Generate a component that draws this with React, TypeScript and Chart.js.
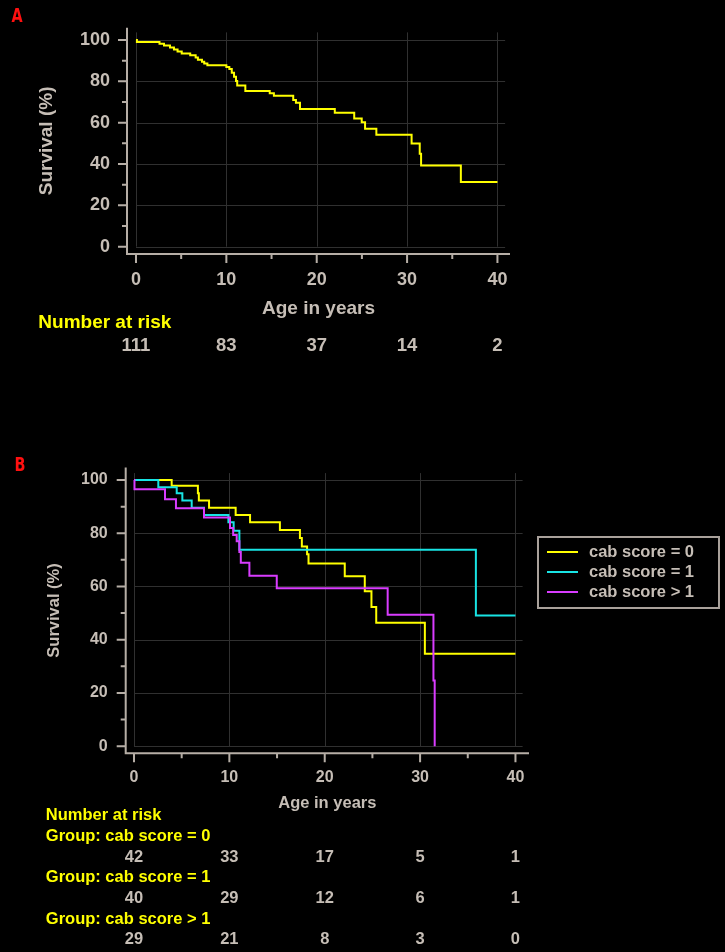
import React, { useEffect, useRef } from 'react';
import { Chart, registerables } from 'chart.js';

Chart.register(...registerables);

const FONT = '"Liberation Sans", Arial, Helvetica, sans-serif';
const LETTER_FONT = '"DejaVu Sans", "Liberation Sans", Arial, sans-serif';
const TEXT = '#c6beb6';
const AXIS = '#b6aea6';
const GRID = '#303030';
const YELLOW = '#ffff00';
const CYAN = '#18e4e4';
const MAGENTA = '#d93cff';
const RED = '#ff1010';

// Shared axis ticks
const xTickValues = [0, 10, 20, 30, 40];
const xMinorValues = [5, 15, 25, 35];
const yTickValues = [0, 20, 40, 60, 80, 100];
const yMinorValues = [10, 30, 50, 70, 90];

// Panel A: overall survival
const timesA = [0, 0.1, 2.6, 3.1, 3.76, 4.2, 4.6, 5.06, 6.0, 6.6, 6.85, 7.3, 7.55, 7.9, 10.0, 10.33, 10.6, 10.85, 11.07, 11.2, 12.1, 14.8, 15.26, 17.4, 17.7, 18.15, 22.0, 24.15, 24.98, 25.35, 26.6, 30.5, 31.4, 31.55, 35.95, 40.0];
const survivalA = [100, 99.1, 98.2, 97.3, 96.4, 95.4, 94.4, 93.5, 92.6, 91.5, 90.4, 89.5, 88.6, 87.8, 86.9, 86.0, 84.2, 82.2, 80.2, 78.0, 75.3, 74.2, 73.0, 71.0, 69.6, 66.6, 64.8, 62.0, 60.2, 57.1, 54.2, 49.9, 45.0, 39.3, 31.3, 31.3];
const riskTimes = [0, 10, 20, 30, 40];
const riskA = [111, 83, 37, 14, 2];

// Panel B: by cab score
const groupNames = ['cab score = 0', 'cab score = 1', 'cab score > 1'];
const timesB0 = [0, 3.95, 6.7, 6.8, 7.87, 10.66, 12.17, 15.3, 17.4, 17.6, 18.15, 18.3, 22.1, 24.2, 24.9, 25.4, 30.5, 40.0];
const survivalB0 = [100, 97.8, 95.0, 92.3, 89.6, 86.9, 84.1, 81.2, 78.2, 75.0, 72.1, 68.6, 63.8, 58.2, 52.3, 46.4, 34.7, 34.7];
const timesB1 = [0, 2.55, 4.48, 5.07, 6.05, 7.34, 9.9, 10.45, 11.05, 35.85, 40.0];
const survivalB1 = [100, 97.3, 95.0, 92.3, 89.6, 86.9, 84.1, 80.9, 73.8, 49.1, 49.1];
const timesB2 = [0, 0.05, 3.25, 4.4, 7.34, 10.07, 10.4, 10.77, 11.05, 11.2, 12.1, 14.97, 26.6, 31.4, 31.53];
const survivalB2 = [100, 96.5, 92.8, 89.4, 85.9, 82.0, 79.3, 77.0, 73.0, 68.9, 64.0, 59.3, 49.4, 24.7, 0];
const riskB0 = [42, 33, 17, 5, 1];
const riskB1 = [40, 29, 12, 6, 1];
const riskB2 = [29, 21, 8, 3, 0];

const toPoints = (t: number[], s: number[]) => t.map((x, i) => ({ x, y: s[i] }));

type TextItem = { text: string; x: number; y: number; color: string; size: number };
type RiskRow = { values: number[]; y: number };
type Deco = {
  letter: string; letterX: number; letterY: number;
  gridXMax: number; gridYMax: number;
  majorLen: number; minorLen: number;
  textSize: number;
  texts: TextItem[];
  riskRows: RiskRow[];
  legend?: { x: number; y: number; w: number; h: number; lineX0: number; lineX1: number; textX: number; rowY: number[] };
};

function makeDecor(cfg: Deco) {
  return {
    id: 'decor',
    beforeDatasetsDraw(chart: any) {
      const { ctx } = chart;
      const xs = chart.scales.x;
      const ys = chart.scales.y;
      const gx0 = xs.getPixelForValue(0);
      const gx1 = xs.getPixelForValue(cfg.gridXMax);
      const gy0 = ys.getPixelForValue(0);
      const gy1 = ys.getPixelForValue(cfg.gridYMax);
      ctx.save();
      ctx.strokeStyle = GRID;
      ctx.lineWidth = 1;
      ctx.beginPath();
      xTickValues.forEach((v) => {
        const p = Math.round(xs.getPixelForValue(v)) + 0.5;
        ctx.moveTo(p, gy1);
        ctx.lineTo(p, gy0);
      });
      yTickValues.forEach((v) => {
        const p = Math.round(ys.getPixelForValue(v)) + 0.5;
        ctx.moveTo(gx0, p);
        ctx.lineTo(gx1, p);
      });
      ctx.stroke();
      ctx.restore();
    },
    afterDraw(chart: any) {
      const { ctx, chartArea: a } = chart;
      const xs = chart.scales.x;
      const ys = chart.scales.y;
      ctx.save();
      // axes
      ctx.strokeStyle = AXIS;
      ctx.lineWidth = 2;
      ctx.beginPath();
      ctx.moveTo(a.left, a.top);
      ctx.lineTo(a.left, a.bottom);
      ctx.lineTo(a.right, a.bottom);
      ctx.stroke();
      ctx.beginPath();
      xTickValues.forEach((v) => {
        const p = xs.getPixelForValue(v);
        ctx.moveTo(p, a.bottom);
        ctx.lineTo(p, a.bottom + cfg.majorLen);
      });
      xMinorValues.forEach((v) => {
        const p = xs.getPixelForValue(v);
        ctx.moveTo(p, a.bottom);
        ctx.lineTo(p, a.bottom + cfg.minorLen);
      });
      yTickValues.forEach((v) => {
        const p = ys.getPixelForValue(v);
        ctx.moveTo(a.left - cfg.majorLen, p);
        ctx.lineTo(a.left, p);
      });
      yMinorValues.forEach((v) => {
        const p = ys.getPixelForValue(v);
        ctx.moveTo(a.left - cfg.minorLen, p);
        ctx.lineTo(a.left, p);
      });
      ctx.stroke();

      // panel letter (narrow bold red glyph)
      ctx.save();
      ctx.fillStyle = RED;
      ctx.font = `bold 20px ${LETTER_FONT}`;
      ctx.textAlign = 'center';
      ctx.textBaseline = 'middle';
      ctx.translate(cfg.letterX, cfg.letterY);
      ctx.scale(0.72, 1);
      ctx.fillText(cfg.letter, 0, 0);
      ctx.restore();

      ctx.textBaseline = 'middle';
      // free texts
      ctx.textAlign = 'left';
      cfg.texts.forEach((t) => {
        ctx.fillStyle = t.color;
        ctx.font = `bold ${t.size}px ${FONT}`;
        ctx.fillText(t.text, t.x, t.y);
      });

      // number at risk values
      ctx.textAlign = 'center';
      ctx.fillStyle = TEXT;
      ctx.font = `bold ${cfg.textSize}px ${FONT}`;
      cfg.riskRows.forEach((row) => {
        row.values.forEach((v, i) => {
          ctx.fillText(String(v), xs.getPixelForValue(riskTimes[i]), row.y);
        });
      });

      // legend
      if (cfg.legend) {
        const L = cfg.legend;
        ctx.strokeStyle = '#a9a19b';
        ctx.lineWidth = 2;
        ctx.strokeRect(L.x, L.y, L.w, L.h);
        ctx.textAlign = 'left';
        chart.data.datasets.forEach((ds: any, i: number) => {
          ctx.strokeStyle = ds.borderColor;
          ctx.lineWidth = 2;
          ctx.beginPath();
          ctx.moveTo(L.lineX0, L.rowY[i]);
          ctx.lineTo(L.lineX1, L.rowY[i]);
          ctx.stroke();
          ctx.fillStyle = TEXT;
          ctx.font = `bold ${cfg.textSize}px ${FONT}`;
          ctx.fillText(ds.label, L.textX, L.rowY[i]);
        });
      }
      ctx.restore();
    },
  };
}

function baseScales(o: any) {
  return {
    x: {
      type: 'linear',
      position: 'bottom',
      min: o.xMin,
      max: o.xMax,
      afterBuildTicks: (s: any) => { s.ticks = xTickValues.map((v) => ({ value: v })); },
      afterFit: (s: any) => { s.height = o.xHeight; },
      grid: { display: false, drawTicks: false },
      border: { display: false },
      ticks: { color: TEXT, font: { family: FONT, size: o.tickSize, weight: 'bold' }, padding: o.xPad, maxRotation: 0, autoSkip: false },
      title: { display: true, text: 'Age in years', color: TEXT, font: { family: FONT, size: o.titleSize, weight: 'bold' }, padding: { top: 0, bottom: o.xTitlePad } },
    },
    y: {
      type: 'linear',
      position: 'left',
      min: o.yMin,
      max: o.yMax,
      afterBuildTicks: (s: any) => { s.ticks = yTickValues.map((v) => ({ value: v })); },
      afterFit: (s: any) => { s.width = o.yWidth; },
      grid: { display: false, drawTicks: false },
      border: { display: false },
      ticks: { color: TEXT, font: { family: FONT, size: o.tickSize, weight: 'bold' }, padding: o.yPad, autoSkip: false },
      title: { display: true, text: 'Survival (%)', color: TEXT, font: { family: FONT, size: o.titleSize, weight: 'bold' }, padding: { top: o.yTitlePad, bottom: 0 } },
    },
  };
}

function configA(): any {
  return {
    type: 'line',
    data: {
      datasets: [{
        label: 'Survival',
        data: toPoints(timesA, survivalA),
        borderColor: YELLOW,
        borderWidth: 2,
        pointRadius: 0,
        stepped: 'before',
        fill: false,
      }],
    },
    options: {
      responsive: false,
      animation: false,
      events: [],
      layout: { padding: { left: 0, top: 8, right: 215, bottom: 0 } },
      plugins: { legend: { display: false }, tooltip: { enabled: false } },
      scales: baseScales({
        xMin: -0.996, xMax: 41.39, yMin: -3.56, yMax: 105.92,
        xHeight: 186, yWidth: 127, tickSize: 18, titleSize: 19,
        xPad: 15, yPad: 17, xTitlePad: 119.6, yTitlePad: 35.1,
      }),
    },
    plugins: [makeDecor({
      letter: 'A', letterX: 17, letterY: 17,
      gridXMax: 40.85, gridYMax: 103.7,
      majorLen: 9, minorLen: 5, textSize: 18.5,
      texts: [{ text: 'Number at risk', x: 38.3, y: 323, color: YELLOW, size: 19 }],
      riskRows: [{ values: riskA, y: 346 }],
    })],
  };
}

function configB(): any {
  const mk = (label: string, t: number[], s: number[], color: string, order: number) => ({
    label, data: toPoints(t, s), borderColor: color, borderWidth: 2, pointRadius: 0, stepped: 'before', fill: false, order,
  });
  return {
    type: 'line',
    data: {
      datasets: [
        mk(groupNames[0], timesB0, survivalB0, YELLOW, 2),
        mk(groupNames[1], timesB1, survivalB1, CYAN, 1),
        mk(groupNames[2], timesB2, survivalB2, MAGENTA, 0),
      ],
    },
    options: {
      responsive: false,
      animation: false,
      events: [],
      layout: { padding: { left: 0, top: 7, right: 196, bottom: 0 } },
      plugins: { legend: { display: false }, tooltip: { enabled: false } },
      scales: baseScales({
        xMin: -0.87, xMax: 41.42, yMin: -2.66, yMax: 104.66,
        xHeight: 198.7, yWidth: 125.7, tickSize: 16, titleSize: 16.5,
        xPad: 14.8, yPad: 18, xTitlePad: 138.4, yTitlePad: 44.1,
      }),
    },
    plugins: [makeDecor({
      letter: 'B', letterX: 20, letterY: 26,
      gridXMax: 40.75, gridYMax: 102.6,
      majorLen: 9, minorLen: 5, textSize: 16.5,
      texts: [
        { text: 'Number at risk', x: 45.8, y: 375.8, color: YELLOW, size: 16.5 },
        { text: 'Group: ' + groupNames[0], x: 45.8, y: 396.5, color: YELLOW, size: 16.5 },
        { text: 'Group: ' + groupNames[1], x: 45.8, y: 437.7, color: YELLOW, size: 16.5 },
        { text: 'Group: ' + groupNames[2], x: 45.8, y: 479, color: YELLOW, size: 16.5 },
      ],
      riskRows: [
        { values: riskB0, y: 417 },
        { values: riskB1, y: 458.4 },
        { values: riskB2, y: 499 },
      ],
      legend: { x: 538, y: 97, w: 181, h: 71, lineX0: 547, lineX1: 578, textX: 589, rowY: [112, 132, 152] },
    })],
  };
}

function KMCanvas({ make, width, height, top }: { make: () => any; width: number; height: number; top: number }) {
  const ref = useRef<HTMLCanvasElement | null>(null);
  useEffect(() => {
    const chart = new Chart(ref.current as HTMLCanvasElement, make());
    return () => chart.destroy();
  }, [make]);
  return (
    <canvas
      ref={ref}
      width={width}
      height={height}
      style={{ position: 'absolute', left: 0, top, width, height, display: 'block' }}
    />
  );
}

export default function App() {
  return (
    <div style={{ position: 'absolute', left: 0, top: 0, width: 725, height: 952, background: '#000', overflow: 'hidden' }}>
      <KMCanvas make={configA} width={725} height={440} top={0} />
      <KMCanvas make={configB} width={725} height={512} top={440} />
    </div>
  );
}
